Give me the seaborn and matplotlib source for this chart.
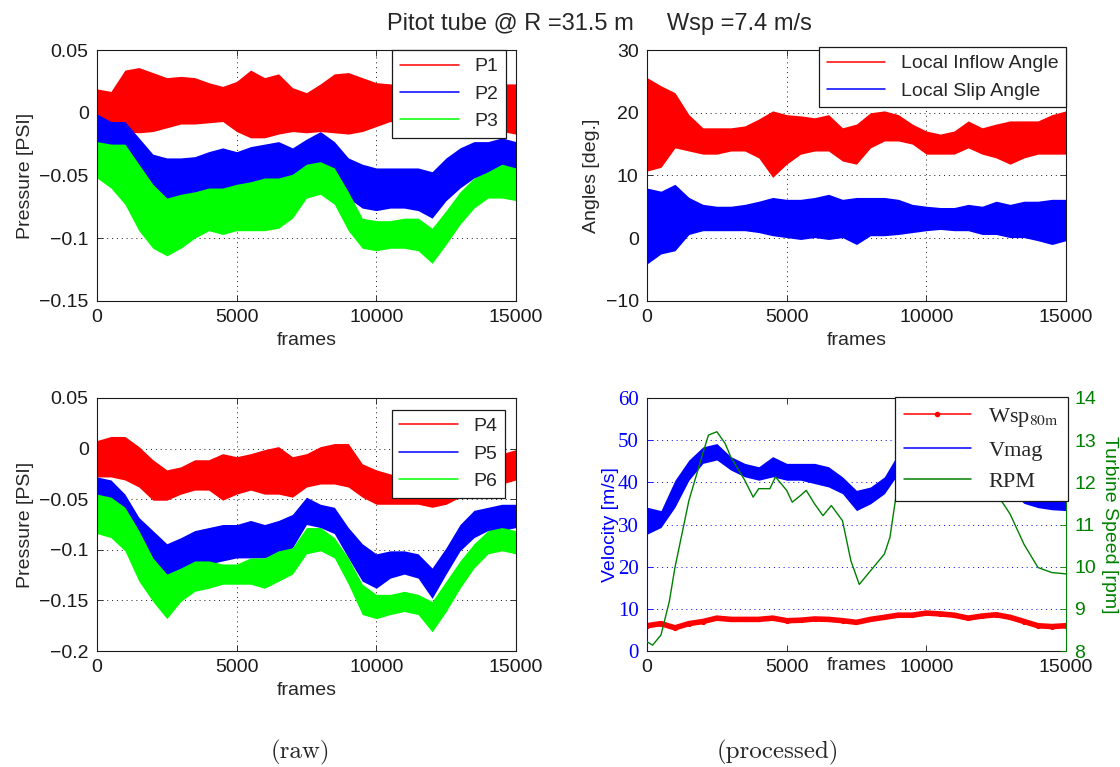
import numpy as np
import pandas as pd
import seaborn as sns
import matplotlib.pyplot as plt
from matplotlib.lines import Line2D
from matplotlib.ticker import FuncFormatter

frames = list(range(0, 15001, 500))

# raw pressures (lower / upper envelope of the oscillation)
p1_hi = [0.019, 0.017, 0.034, 0.036, 0.032, 0.028, 0.029, 0.028, 0.024, 0.021, 0.025, 0.034, 0.028, 0.031, 0.020, 0.016,
         0.023, 0.031, 0.032, 0.028, 0.024, 0.023, 0.022, 0.022, 0.022, 0.022, 0.022, 0.022, 0.022, 0.023, 0.023]
p1_lo = [-0.001, -0.012, -0.015, -0.016, -0.015, -0.012, -0.009, -0.009, -0.008, -0.007, -0.015, -0.020, -0.020, -0.017,
         -0.015, -0.016, -0.015, -0.016, -0.017, -0.015, -0.011, -0.007, -0.010, -0.010, -0.010, -0.010, -0.010, -0.010,
         -0.012, -0.015, -0.017]
p2_hi = [-0.001, -0.007, -0.007, -0.020, -0.033, -0.036, -0.036, -0.035, -0.031, -0.028, -0.031, -0.027, -0.025, -0.023,
         -0.028, -0.021, -0.015, -0.023, -0.036, -0.041, -0.044, -0.044, -0.044, -0.044, -0.047, -0.036, -0.028, -0.023,
         -0.023, -0.020, -0.023]
p2_lo = [-0.052, -0.046, -0.052, -0.063, -0.073, -0.084, -0.078, -0.073, -0.068, -0.065, -0.068, -0.065, -0.063, -0.060,
         -0.060, -0.049, -0.049, -0.055, -0.068, -0.076, -0.078, -0.076, -0.076, -0.078, -0.084, -0.070, -0.060, -0.052,
         -0.049, -0.046, -0.044]
p3_hi = [-0.023, -0.025, -0.025, -0.041, -0.057, -0.068, -0.065, -0.063, -0.060, -0.060, -0.057, -0.055, -0.052, -0.052,
         -0.049, -0.041, -0.039, -0.044, -0.063, -0.084, -0.086, -0.086, -0.084, -0.084, -0.092, -0.078, -0.063, -0.052,
         -0.047, -0.041, -0.044]
p3_lo = [-0.052, -0.060, -0.073, -0.094, -0.108, -0.114, -0.108, -0.100, -0.094, -0.097, -0.094, -0.094, -0.094, -0.092,
         -0.084, -0.068, -0.065, -0.073, -0.094, -0.108, -0.110, -0.108, -0.108, -0.110, -0.120, -0.105, -0.089, -0.076,
         -0.068, -0.068, -0.070]
p4_hi = [0.008, 0.012, 0.012, 0.002, -0.011, -0.021, -0.018, -0.011, -0.011, -0.005, -0.008, -0.005, -0.001, 0.002,
         -0.008, -0.005, 0.002, 0.005, 0.005, -0.015, -0.021, -0.025, -0.028, -0.028, -0.028, -0.028, -0.025, -0.018,
         -0.011, -0.005, -0.001]
p4_lo = [-0.028, -0.028, -0.031, -0.038, -0.051, -0.051, -0.045, -0.041, -0.041, -0.051, -0.045, -0.041, -0.045, -0.045,
         -0.048, -0.038, -0.035, -0.035, -0.038, -0.048, -0.055, -0.055, -0.055, -0.055, -0.058, -0.055, -0.048, -0.045,
         -0.041, -0.035, -0.031]
p5_hi = [-0.028, -0.031, -0.045, -0.068, -0.081, -0.094, -0.088, -0.081, -0.078, -0.075, -0.075, -0.071, -0.075, -0.071,
         -0.065, -0.048, -0.055, -0.058, -0.078, -0.094, -0.104, -0.101, -0.101, -0.104, -0.118, -0.098, -0.075, -0.061,
         -0.058, -0.055, -0.055]
p5_lo = [-0.065, -0.068, -0.084, -0.108, -0.131, -0.138, -0.128, -0.118, -0.114, -0.111, -0.108, -0.108, -0.108, -0.104,
         -0.098, -0.075, -0.078, -0.084, -0.108, -0.131, -0.138, -0.128, -0.124, -0.128, -0.148, -0.124, -0.101, -0.088,
         -0.081, -0.081, -0.078]
p6_hi = [-0.045, -0.048, -0.058, -0.081, -0.108, -0.124, -0.118, -0.111, -0.111, -0.114, -0.114, -0.108, -0.108, -0.101,
         -0.098, -0.078, -0.078, -0.088, -0.108, -0.134, -0.144, -0.144, -0.141, -0.144, -0.151, -0.131, -0.111, -0.094,
         -0.081, -0.078, -0.081]
p6_lo = [-0.084, -0.088, -0.101, -0.131, -0.151, -0.168, -0.151, -0.141, -0.138, -0.134, -0.134, -0.134, -0.138, -0.131,
         -0.124, -0.104, -0.101, -0.108, -0.134, -0.164, -0.168, -0.164, -0.161, -0.164, -0.181, -0.161, -0.138, -0.118,
         -0.104, -0.101, -0.104]

# processed angles [deg]
inflow_hi = [25.6, 24.3, 23.2, 19.7, 17.6, 17.6, 17.6, 17.9, 19.0, 20.3, 19.7, 19.5, 19.2, 19.7, 17.6, 18.2, 20.0, 20.3,
             19.7, 18.2, 17.1, 16.6, 17.1, 18.7, 17.6, 18.2, 18.7, 18.7, 18.7, 19.7, 20.3]
inflow_lo = [10.7, 11.3, 14.4, 13.9, 13.4, 13.4, 13.9, 13.9, 12.8, 9.7, 11.8, 13.4, 13.9, 13.9, 12.3, 11.8, 14.4, 15.5,
             15.5, 15.0, 13.4, 13.4, 13.4, 14.4, 13.4, 12.8, 11.8, 12.8, 13.4, 13.4, 13.4]
slip_hi = [8.0, 7.5, 8.6, 6.5, 5.4, 5.1, 5.1, 5.4, 5.9, 6.5, 6.2, 6.2, 6.5, 7.0, 6.2, 6.5, 6.5, 6.5, 6.2, 5.4, 5.1, 4.9,
           4.9, 5.4, 5.1, 5.9, 5.4, 5.9, 5.9, 6.2, 6.2]
slip_lo = [-4.1, -2.5, -2.0, 0.6, 1.2, 1.2, 1.2, 1.2, 0.9, 0.4, 0.1, -0.2, 0.1, -0.2, 0.1, -1.0, 0.4, 0.4, 0.6, 0.9, 1.2,
           1.4, 1.2, 1.2, 0.6, 0.6, 0.1, 0.1, -0.4, -1.0, -0.4]

# velocities [m/s]
vmag_hi = [34.1, 33.3, 40.5, 45.3, 48.4, 49.2, 46.1, 44.5, 43.7, 46.1, 44.5, 44.5, 44.5, 43.7, 41.3, 38.1, 38.9, 41.3,
           46.9, 49.2, 49.0, 48.0, 47.0, 46.0, 45.0, 44.0, 42.0, 39.0, 38.0, 38.0, 37.3]
vmag_lo = [27.7, 29.3, 34.1, 40.5, 44.5, 45.3, 42.9, 41.3, 40.5, 41.3, 40.5, 40.5, 39.7, 38.9, 37.3, 33.3, 34.9, 37.3,
           42.1, 46.1, 45.0, 44.0, 43.0, 42.0, 41.0, 40.0, 38.0, 35.0, 34.0, 33.5, 33.3]
wsp = [6.0, 6.5, 5.5, 6.5, 7.0, 7.8, 7.5, 7.5, 7.5, 7.8, 7.2, 7.3, 7.6, 7.5, 7.2, 6.8, 7.5, 8.0, 8.5, 8.5, 9.0, 8.8,
       8.5, 7.8, 8.3, 8.6, 8.0, 7.0, 6.0, 5.8, 6.0]

# turbine speed [rpm]
rpm_frames = [0, 200, 500, 800, 1000, 1500, 2000, 2200, 2500, 2800, 3000, 3500, 3800, 4000, 4400, 4600, 5000, 5200,
              5500, 5700, 6000, 6300, 6600, 7000, 7300, 7600, 8000, 8500, 8700, 9000, 9300, 9600, 10000, 10500,
              11000, 11500, 12000, 12300, 12600, 13000, 13500, 14000, 14500, 15000]
rpm = [8.22, 8.14, 8.38, 9.18, 9.98, 11.57, 12.69, 13.12, 13.20, 12.92, 12.60, 12.05, 11.65, 11.85, 11.85, 12.13, 11.81,
       11.53, 11.69, 11.81, 11.49, 11.21, 11.45, 11.09, 10.14, 9.58, 9.90, 10.30, 10.70, 12.05, 13.00, 13.32, 13.30,
       13.20, 13.10, 12.90, 12.50, 12.10, 11.65, 11.25, 10.53, 9.98, 9.86, 9.83]

RED, BLUE, GREEN, DKGREEN = (1, 0, 0), (0, 0, 1), (0, 1, 0), (0, 0.5, 0)

sns.set_theme(style='white')
plt.rcParams['font.family'] = ['Liberation Sans', 'DejaVu Sans']
plt.rcParams['font.size'] = 14
plt.rcParams['mathtext.fontset'] = 'stix'


def band(ax, lo, hi, color):
    d = pd.DataFrame({'frame': frames * 2, 'value': lo + hi})
    sns.lineplot(data=d, x='frame', y='value', ax=ax, color=color, estimator='mean',
                 errorbar=('pi', 100), err_kws={'alpha': 1, 'linewidth': 0},
                 linewidth=0, legend=False)


def tick_fmt(v, pos):
    return f'{round(v, 6) + 0.0:g}'.replace('-', '\u2212')


def style(ax, ylim, step, grid_color='k'):
    ax.set_xlim(0, 15000)
    ax.set_ylim(*ylim)
    ax.set_xticks([0, 5000, 10000, 15000])
    ax.set_yticks(np.arange(ylim[0], ylim[1] + step / 2, step))
    ax.yaxis.set_major_formatter(FuncFormatter(tick_fmt))
    ax.tick_params(direction='in', length=4, width=0.6, pad=6, labelsize=14,
                   bottom=True, left=True, top=True, right=True, colors='k')
    ax.grid(True, linestyle=(0, (1, 4)), color=grid_color, linewidth=0.7)
    for s in ax.spines.values():
        s.set_color('k')
        s.set_linewidth(0.8)
    ax.set_xlabel('frames', fontsize=14)


def legend(ax, handles, labels, anchor, **kw):
    lg = ax.legend(handles, labels, loc='upper right', bbox_to_anchor=anchor, borderaxespad=0,
                   handlelength=3, fancybox=False, framealpha=1, edgecolor='k', fontsize=14, **kw)
    lg.get_frame().set_linewidth(0.9)
    lg.set_zorder(10)


fig = plt.figure(figsize=(11.2, 7.67), dpi=100)
ax1 = fig.add_axes([0.0866, 0.6076, 0.374, 0.3272])
ax2 = fig.add_axes([0.5777, 0.6076, 0.374, 0.3272])
ax3 = fig.add_axes([0.0866, 0.1512, 0.374, 0.3299])
ax4 = fig.add_axes([0.5777, 0.1512, 0.374, 0.3299])

# raw, probes 1-3
band(ax1, p1_lo, p1_hi, RED)
band(ax1, p2_lo, p2_hi, BLUE)
band(ax1, p3_lo, p3_hi, GREEN)
style(ax1, (-0.15, 0.05), 0.05)
ax1.set_ylabel('Pressure [PSI]', fontsize=14)
legend(ax1, [Line2D([], [], color=c, lw=1.1) for c in (RED, BLUE, GREEN)], ['P1', 'P2', 'P3'], (0.976, 1.0))

# raw, probes 4-6
band(ax3, p4_lo, p4_hi, RED)
band(ax3, p5_lo, p5_hi, BLUE)
band(ax3, p6_lo, p6_hi, GREEN)
style(ax3, (-0.2, 0.05), 0.05)
ax3.set_ylabel('Pressure [PSI]', fontsize=14)
legend(ax3, [Line2D([], [], color=c, lw=1.1) for c in (RED, BLUE, GREEN)], ['P4', 'P5', 'P6'], (0.974, 0.953))

# processed angles
band(ax2, inflow_lo, inflow_hi, RED)
band(ax2, slip_lo, slip_hi, BLUE)
style(ax2, (-10, 30), 10)
ax2.set_ylabel('Angles [deg.]', fontsize=14)
legend(ax2, [Line2D([], [], color=c, lw=1.1) for c in (RED, BLUE)],
       ['Local Inflow Angle', 'Local Slip Angle'], (1.0, 1.012))

# processed velocities + rpm
band(ax4, vmag_lo, vmag_hi, BLUE)
sns.lineplot(x=frames, y=wsp, ax=ax4, color=RED, linewidth=4, marker='.', markersize=6,
             markeredgecolor=RED, legend=False)
style(ax4, (0, 60), 10, grid_color=BLUE)
ax4.xaxis.grid(False)
ax4.set_yticks(range(0, 61, 10))
ax4.set_yticklabels([str(v) for v in range(0, 61, 10)], fontfamily='Liberation Serif', color=BLUE, fontsize=15)
ax4.tick_params(axis='y', colors=BLUE, labelcolor=BLUE, right=False)
ax4.spines['left'].set_color(BLUE)
ax4.spines['right'].set_visible(False)
ax4.set_ylabel('Velocity [m/s]', color=BLUE, fontsize=14)
ax4.yaxis.set_label_coords(-0.068, 0.5)
ax4.xaxis.set_label_coords(0.5, -0.022)

ax4r = ax4.twinx()
sns.lineplot(x=rpm_frames, y=rpm, ax=ax4r, color=DKGREEN, linewidth=1.0, legend=False)
ax4r.set_ylim(8, 14)
ax4r.set_yticks(range(8, 15))
ax4r.tick_params(axis='y', direction='in', length=4, width=0.6, pad=6, colors=DKGREEN,
                 labelcolor=DKGREEN, labelsize=14, right=True, left=False)
ax4r.grid(False)
ax4r.spines['left'].set_visible(False)
ax4r.spines['top'].set_visible(False)
ax4r.spines['bottom'].set_visible(False)
ax4r.spines['right'].set_color(DKGREEN)
ax4r.spines['right'].set_linewidth(0.8)
ax4r.set_ylabel('Turbine Speed [rpm]', color=DKGREEN, fontsize=14, rotation=270, va='bottom')
ax4r.yaxis.set_label_coords(1.083, 0.5)
lg = ax4r.legend([Line2D([], [], color=RED, lw=1.1, marker='.', markersize=6),
                  Line2D([], [], color=BLUE, lw=1.1),
                  Line2D([], [], color=DKGREEN, lw=1.1)],
                 [r'Wsp$_{\mathrm{80m}}$', 'Vmag', 'RPM'], loc='upper right', bbox_to_anchor=(1.005, 1.004),
                 borderaxespad=0, handlelength=3, fancybox=False, framealpha=1, edgecolor='k',
                 prop={'family': 'Liberation Serif', 'size': 16})
lg.get_frame().set_linewidth(0.9)

fig.text(0.535, 1 - 30 / 767, 'Pitot tube @ R =31.5 m     Wsp =7.4 m/s', ha='center', va='baseline', fontsize=17)
fig.text(300 / 1120, 1 - 752 / 767, '(raw)', ha='center', va='center', fontsize=18, family='cmr10')
fig.text(778 / 1120, 1 - 752 / 767, '(processed)', ha='center', va='center', fontsize=18, family='cmr10')

fig.savefig('out.png', dpi=100)
